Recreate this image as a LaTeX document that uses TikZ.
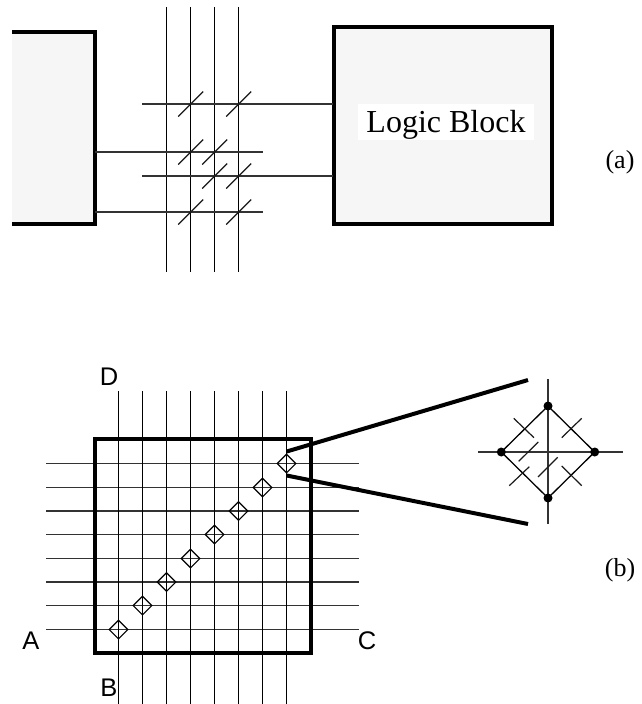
\documentclass[tikz,border=0pt]{standalone}
\usepackage{fontspec}
\setmainfont{Liberation Serif}
\newfontfamily\lblsans{Liberation Sans}
\usetikzlibrary{shapes.geometric}
\tikzset{
  wire/.style={line width=1.5pt,black!80},
  vwire/.style={line width=1.3pt,black},
  slash/.style={line width=1.2pt,black!90},
  heavy/.style={line width=4pt,black},
  blockbox/.style={heavy,fill=black!3.5},
  sw/.style={draw=black,line width=1.1pt,diamond,aspect=1,inner sep=0pt,minimum size=19pt},
  dotnode/.style={circle,fill=black,inner sep=0pt,minimum size=9pt},
  capt/.style={font=\fontsize{26}{28}\selectfont,inner sep=0pt},
  sans/.style={font=\lblsans\fontsize{25.5}{28}\selectfont,inner sep=0pt},
}
\begin{document}
\begin{tikzpicture}[x=1pt,y=-1pt]
\useasboundingbox[fill=white] (0,0) rectangle (642,704);
% part (a) blocks
\fill[black!3.5] (12,32) rectangle (95,224);
\draw[heavy] (12,32) -- (94.7,32) -- (94.7,223.7) -- (12,223.7);
\coordinate (lb1) at (95,152);
\coordinate (lb2) at (95,212);
\node[blockbox,draw,minimum width=217.5pt,minimum height=197pt,inner sep=0pt] (rb) at (443.2,125.5) {};
\node[fill=white,minimum width=176pt,minimum height=36pt,inner sep=0pt] (lgbg) at (446,122) {};
\node[inner sep=0pt,font=\fontsize{32}{34}\selectfont] (lg) at (446,124.5) {Logic Block};
\foreach \n/\x in {1/166.5,2/190.5,3/214.5,4/238.5}{
  \coordinate (vt\n) at (\x,7);
  \coordinate (vb\n) at (\x,272);
  \draw[vwire] (vt\n) -- (vb\n);
}
\coordinate (h1) at (142,104);
\coordinate (h1e) at (333,104);
\coordinate (h2e) at (263,152);
\coordinate (h3) at (142,176);
\coordinate (h3e) at (333,176);
\coordinate (h4e) at (263,212);
\draw[wire] (h1) -- (h1e);
\draw[wire] (lb1) -- (h2e);
\draw[wire] (h3) -- (h3e);
\draw[wire] (lb2) -- (h4e);
\foreach \x/\y in {190.7/104,238.7/104,190.7/152,214.7/152,214.7/176,238.7/176,190.7/212,238.7/212}{
  \draw[slash] (\x-12.5,\y+12.5) -- (\x+12.5,\y-12.5);
}
\node[capt] (capa) at (620,162) {(a)};
% part (b)
\foreach \n/\y in {1/463.5,2/487.5,3/511,4/534.5,5/558.5,6/582,7/605.5,8/629.5}{
  \coordinate (hl\n) at (46,\y);
  \coordinate (hr\n) at (359,\y);
  \draw[wire] (hl\n) -- (hr\n);
}
\foreach \n/\x in {1/118.5,2/142.5,3/166.5,4/190.5,5/214.5,6/238.5,7/262.5,8/286.5}{
  \coordinate (vt\n) at (\x,391);
  \coordinate (vb\n) at (\x,704);
  \draw[vwire] (vt\n) -- (vb\n);
}
\node[heavy,draw,minimum width=216pt,minimum height=214pt,inner sep=0pt] (mat) at (202.7,546.3) {};
\foreach \n/\x/\y in {1/118.5/629.5,2/142.5/605.5,3/166.5/582,4/190.5/558.5,5/214.5/534.5,6/238.5/511,7/262.5/487.5,8/286.5/463.5}{
  \node[sw] (d\n) at (\x,\y) {};
}
\coordinate (zs1) at (286.7,451.5);
\coordinate (ze1) at (528,380);
\coordinate (zs2) at (286.7,475.5);
\coordinate (ze2) at (528,524);
\draw[heavy] (zs1) -- (ze1);
\draw[heavy] (zs2) -- (ze2);
% inset
\coordinate (it) at (548,379);
\coordinate (ib) at (548,524);
\coordinate (il) at (478,452);
\coordinate (ir) at (623,452);
\draw[wire] (it) -- (ib);
\draw[wire] (il) -- (ir);
\node[dotnode] (n) at (548,406) {};
\node[dotnode] (s) at (548,498) {};
\node[dotnode] (w) at (501.3,452) {};
\node[dotnode] (e) at (594.7,452) {};
\draw[vwire] (n.center) -- (e.center) -- (s.center) -- (w.center) -- cycle;
\draw[slash] (513.7,418.3) -- (534,437.7);
\draw[slash] (561.7,437.7) -- (581.7,418.3);
\draw[slash] (509.3,485.7) -- (529.3,466.7);
\draw[slash] (561.7,466) -- (581.7,485.7);
\draw[slash] (518.7,461.3) -- (538.3,442);
\draw[slash] (538,477) -- (557.7,457.3);
\node[capt] (capb) at (620,570) {(b)};
\node[sans] (A) at (31,641) {A};
\node[sans] (B) at (109,688) {B};
\node[sans] (C) at (367,641) {C};
\node[sans] (D) at (109,377) {D};
\end{tikzpicture}
\end{document}
